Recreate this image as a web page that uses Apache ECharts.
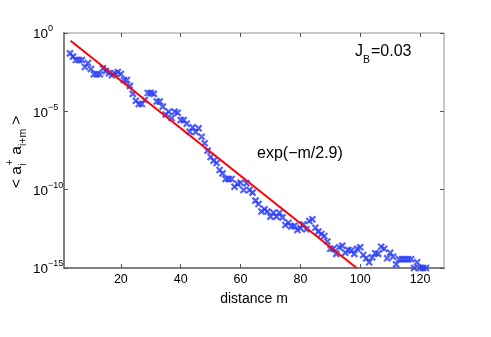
<!DOCTYPE html>
<html><head><meta charset="utf-8">
<script src="https://cdn.jsdelivr.net/npm/echarts@6/dist/echarts.min.js"></script>
<style>html,body{margin:0;padding:0;background:#fff}#c{width:491px;height:337px}</style>
</head><body><div id="c"></div>
<script>
var distances = [];
for (var k = 3; k <= 122; k++) distances.push(k);
var correlation = [
 5.0e-2,3.1e-2,1.9e-2,1.9e-2,1.9e-2,6.8e-3,1.2e-2,5.0e-3,2.3e-3,2.3e-3,
 2.3e-3,5.6e-3,3.7e-3,2.7e-3,2.0e-3,2.7e-3,3.2e-3,2.4e-3,1.0e-3,1.0e-3,
 4.2e-4,1.3e-4,4.8e-5,2.9e-5,2.9e-5,5.3e-5,1.5e-4,1.5e-4,1.3e-4,4.2e-5,
 4.2e-5,2.0e-5,6.2e-6,9.5e-6,3.8e-6,9.5e-6,8.2e-6,2.8e-6,2.8e-6,1.6e-6,
 5.0e-7,9.6e-7,4.8e-7,8.3e-7,2.4e-7,9.1e-8,3.1e-8,1.2e-8,7.1e-9,5.0e-9,
 1.8e-9,1.1e-9,4.8e-10,4.8e-10,4.8e-10,1.55e-10,2.3e-10,2.8e-10,9.5e-11,2.6e-10,
 9.5e-11,6.5e-11,2.0e-11,1.2e-11,4.0e-12,5.6e-12,4.0e-12,1.9e-12,3.4e-12,1.9e-12,
 3.4e-12,1.7e-12,5.6e-13,7.8e-13,4.4e-13,5.0e-13,2.7e-13,3.5e-13,6.2e-13,3.0e-13,
 1.0e-12,1.3e-12,3.7e-13,2.1e-13,1.5e-13,1.1e-13,4.9e-14,1.7e-14,1.7e-14,8.0e-15,
 2.1e-14,2.6e-14,9.5e-15,1.4e-14,1.3e-14,8.0e-15,1.7e-14,2.1e-14,6.8e-15,4.2e-15,
 2.3e-15,4.9e-15,8.7e-15,8.0e-15,2.3e-14,1.7e-14,4.2e-15,9.5e-15,5.3e-15,1.7e-15,
 3.6e-15,3.6e-15,3.6e-15,3.6e-15,3.6e-15,1.0e-15,2.3e-15,1.0e-15,1.0e-15,1.0e-15
];
var fitX = [3.2, 98.8];
var fitY = [0.32, 1e-15];
var xTicks = [20, 40, 60, 80, 100, 120];

var scatterData = distances.map(function (m, i) { return [m, correlation[i]]; });
var fitData = fitX.map(function (m, i) { return [m, fitY[i]]; });

var FONT = 'Liberation Sans, Arial, sans-serif';
var chart = echarts.init(document.getElementById('c'));
function yFmt(v) {
  var e = Math.round(Math.log10(v));
  return '{b|10}{s|' + (e === 0 ? '0' : '\u2212' + (-e)) + '}';
}
chart.setOption({
  animation: false,
  backgroundColor: '#fff',
  grid: { left: 64, top: 33, right: 47, bottom: 69, show: true, borderColor: '#909090', borderWidth: 1 },
  xAxis: [{
    type: 'value', min: 1, max: 128, position: 'bottom',
    name: 'distance m', nameLocation: 'middle', nameGap: 24,
    nameTextStyle: { fontFamily: FONT, fontSize: 14, color: '#000' },
    axisLine: { show: true, lineStyle: { color: '#808080', width: 2 } },
    splitLine: { show: false },
    axisTick: { inside: true, length: 4, lineStyle: { color: '#555' }, customValues: xTicks },
    axisLabel: { fontFamily: FONT, fontSize: 12.5, color: '#000', margin: 5, customValues: xTicks }
  }, {
    type: 'value', min: 1, max: 128, position: 'top',
    axisLine: { show: false }, splitLine: { show: false },
    axisTick: { inside: true, length: 4, lineStyle: { color: '#555' }, customValues: xTicks },
    axisLabel: { show: false }
  }],
  yAxis: [{
    type: 'log', logBase: 10, min: 1e-15, max: 1, interval: 5, position: 'left',
    axisLine: { show: true, lineStyle: { color: '#808080', width: 2 } },
    splitLine: { show: false }, minorTick: { show: false },
    axisTick: { inside: true, length: 4, lineStyle: { color: '#555' } },
    axisLabel: {
      margin: 31, align: 'left', formatter: yFmt,
      rich: {
        b: { fontFamily: FONT, fontSize: 13.5, color: '#000', padding: [3, 0, 0, 0] },
        s: { fontFamily: FONT, fontSize: 9, color: '#000', padding: [0, 0, 8, 0] }
      }
    }
  }, {
    type: 'log', logBase: 10, min: 1e-15, max: 1, interval: 5, position: 'right',
    axisLine: { show: false }, splitLine: { show: false },
    axisTick: { inside: true, length: 4, lineStyle: { color: '#555' } },
    axisLabel: { show: false }
  }],
  graphic: [
    { type: 'text', left: 355, top: 44, style: { text: 'J', font: '16px ' + FONT, fill: '#000' } },
    { type: 'text', left: 363, top: 55, style: { text: 'B', font: '10.5px ' + FONT, fill: '#000' } },
    { type: 'text', left: 371, top: 44, style: { text: '=0.03', font: '16px ' + FONT, fill: '#000' } },
    { type: 'text', left: 257, top: 146, style: { text: 'exp(\u2212m/2.9)', font: '16px ' + FONT, fill: '#000' } },
    { type: 'group', x: 17, y: 188, rotation: Math.PI / 2, children: [
      { type: 'text', x: 0, y: 0, style: { text: '< a', font: '15.5px ' + FONT, fill: '#000', verticalAlign: 'middle' } },
      { type: 'text', x: 22.5, y: -6.5, style: { text: '+', font: '10.5px ' + FONT, fill: '#000', verticalAlign: 'middle' } },
      { type: 'text', x: 22.5, y: 6.5, style: { text: 'i', font: '10.5px ' + FONT, fill: '#000', verticalAlign: 'middle' } },
      { type: 'text', x: 29, y: 0, style: { text: ' a', font: '15.5px ' + FONT, fill: '#000', verticalAlign: 'middle' } },
      { type: 'text', x: 42, y: 6.5, style: { text: 'i+m', font: '10.5px ' + FONT, fill: '#000', verticalAlign: 'middle' } },
      { type: 'text', x: 59, y: 0, style: { text: ' >', font: '15.5px ' + FONT, fill: '#000', verticalAlign: 'middle' } }
    ]}
  ],
  series: [{
    type: 'scatter', xAxisIndex: 0, yAxisIndex: 0, data: scatterData,
    symbol: 'path://M0,0L10,10M10,0L0,10', symbolSize: 6,
    itemStyle: { color: 'rgba(0,0,0,0)', borderColor: '#2638f5', borderWidth: 2.2 }
  }, {
    type: 'line', xAxisIndex: 0, yAxisIndex: 0, data: fitData, symbol: 'none',
    lineStyle: { color: '#ff0000', width: 2 }
  }]
});
</script></body></html>
